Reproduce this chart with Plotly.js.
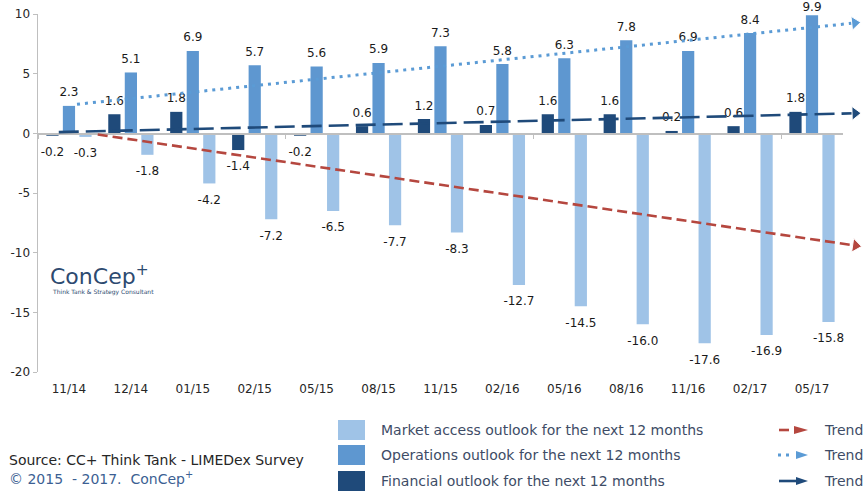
<!DOCTYPE html>
<html><head><meta charset="utf-8">
<script src="https://cdn.plot.ly/plotly-3.0.1.min.js"></script>
<style>html,body{margin:0;padding:0;background:#fff}#chart{width:864px;height:495px}</style>
</head><body><div id="chart"></div>
<script>
// ---------- data ----------
const categories = ['11/14','12/14','01/15','02/15','05/15','08/15','11/15','02/16','05/16','08/16','11/16','02/17','05/17'];
const marketAccess = [-0.3,-1.8,-4.2,-7.2,-6.5,-7.7,-8.3,-12.7,-14.5,-16.0,-17.6,-16.9,-15.8];
const operations   = [2.3,5.1,6.9,5.7,5.6,5.9,7.3,5.8,6.3,7.8,6.9,8.4,9.9];
const financial    = [-0.2,1.6,1.8,-1.4,-0.2,0.6,1.2,0.7,1.6,1.6,0.2,0.6,1.8];
const seriesNames  = ['Market access outlook for the next 12 months',
                      'Operations outlook for the next 12 months',
                      'Financial outlook for the next 12 months'];
const trendLabel = 'Trend';
// trend arrows (start, end) in category-index units and values
const marketTrendX = [0.47, 12.71],     marketTrendY = [-0.1, -9.41];
const operationsTrendX = [0.13, 12.69], operationsTrendY = [2.44, 9.25];
const financialTrendX = [-0.17, 12.69], financialTrendY = [0.1, 1.68];
const yTickVals = [-20,-15,-10,-5,0,5,10];
const yTickText = ['-20','-15','-10','-5','0','5','10'];
const sourceText = 'Source: CC+ Think Tank - LIMEDex Survey';
const copyrightText = '© 2015  - 2017.  ConCep<sup>+</sup>';
const logoText = 'ConCep<sup>+</sup>';
const logoSub = 'Think Tank & Strategy Consultant';

// ---------- styling / geometry ----------
const colMarket = '#9FC3E7', colOps = '#5E97D0', colFin = '#1F4A7A';
const colRed = '#B5473F', colTrendBlue = '#5B9BD5', colTrendDark = '#1F4A7A';
const FONT = 'DejaVu Sans';
const W = 864, H = 495, L = 38, R = 0, T = 14, B = 123;
const plotW = W - L - R, plotH = H - T - B;
const catW = 61.92;
const mainFrac = catW * categories.length / plotW;
const yMin = -20, yMax = 10;
const BARGAP = 0.2;
const idx = categories.map((c, i) => i);
const fx = x => (x - L) / plotW;
const fy = y => (H - B - y) / plotH;

const labelFont = {family: FONT, size: 12, color: '#1a1a1a'};
function barTrace(name, vals, color) {
  return {type: 'bar', name: name, x: idx, y: vals, marker: {color: color},
    hoverinfo: 'skip', showlegend: false};
}
// invisible marker size controls the label distance from the bar end
function labelMarkerSize(v) {
  let gap;
  if (v >= 0) {
    const barTop = T + (yMax - v) / (yMax - yMin) * plotH;
    gap = Math.min(9.5, barTop - 11.5);
    const r = Math.max(gap - 3, 1);
    return Math.max(2 * (r - 1) * 0.8, 0.5);
  }
  gap = 11.7;
  return 2 * (gap - 0.3 - 1) * 0.8;
}
function labelTrace(vals) {
  return {type: 'scatter', mode: 'markers+text', orientation: 'v', x: idx, y: vals,
    text: vals.map(v => v.toFixed(1)),
    textposition: vals.map(v => v >= 0 ? 'top center' : 'bottom center'),
    marker: {size: vals.map(labelMarkerSize), opacity: 0, color: '#000'},
    textfont: labelFont, cliponaxis: false, hoverinfo: 'skip', showlegend: false};
}
function trendTrace(xs, ys, color, width, dash) {
  return {type: 'scatter', mode: 'lines+markers', x: xs, y: ys, xaxis: 'x2', yaxis: 'y2',
    line: {color: color, width: width, dash: dash},
    marker: {symbol: 'triangle-up', angleref: 'previous', size: [0, 12], opacity: [0, 1], color: color},
    cliponaxis: false, hoverinfo: 'skip', showlegend: false};
}

const data = [
  barTrace(seriesNames[2], financial, colFin),
  barTrace(seriesNames[1], operations, colOps),
  barTrace(seriesNames[0], marketAccess, colMarket),
  labelTrace(financial),
  labelTrace(operations),
  labelTrace(marketAccess),
  {type: 'scatter', x: [null], y: [null], xaxis: 'x3', yaxis: 'y', showlegend: false, hoverinfo: 'skip'},
  trendTrace(marketTrendX, marketTrendY, colRed, 2.6, '10px,5px'),
  trendTrace(operationsTrendX, operationsTrendY, colTrendBlue, 3, '3px,5px'),
  trendTrace(financialTrendX, financialTrendY, colTrendDark, 2.6, '20px,7px')
];

// ---------- legend (custom) ----------
const rows = [430, 455, 481];
const boxCols = [colMarket, colOps, colFin];
const shapes = [], annotations = [];
rows.forEach((yc, i) => {
  shapes.push({type: 'rect', xref: 'paper', yref: 'paper', x0: fx(338), x1: fx(365),
    y0: fy(yc - 10), y1: fy(yc + 10), fillcolor: boxCols[i], line: {width: 0}});
  annotations.push({xref: 'paper', yref: 'paper', x: fx(379), y: fy(yc), xanchor: 'left', yanchor: 'middle',
    text: seriesNames[i], showarrow: false, font: {family: FONT, size: 14, color: '#3E4C66'}});
  annotations.push({xref: 'paper', yref: 'paper', x: fx(822), y: fy(yc), xanchor: 'left', yanchor: 'middle',
    text: trendLabel, showarrow: false, font: {family: FONT, size: 14, color: '#3E4C66'}});
});
const tri = (x0, x1, yc, h, col) => ({type: 'path', xref: 'paper', yref: 'paper', fillcolor: col, line: {width: 0},
  path: `M${fx(x0)},${fy(yc - h)} L${fx(x1)},${fy(yc)} L${fx(x0)},${fy(yc + h)} Z`});
const seg = (x0, x1, yc, col, w, dash) => ({type: 'line', xref: 'paper', yref: 'paper', x0: fx(x0), x1: fx(x1),
  y0: fy(yc), y1: fy(yc), line: {color: col, width: w, dash: dash}});
shapes.push(seg(779, 789, rows[0], colRed, 2.6, 'solid'), tri(794, 808, rows[0], 4, colRed));
shapes.push(seg(778, 792, rows[1], colTrendBlue, 3, '3px,5px'), tri(796, 808, rows[1], 4, colTrendBlue));
shapes.push(seg(779, 800, rows[2], colTrendDark, 2.6, 'solid'), tri(796, 808, rows[2], 4, colTrendDark));

annotations.push({xref: 'paper', yref: 'paper', x: fx(7), y: fy(460), xanchor: 'left', yanchor: 'middle',
  text: sourceText, showarrow: false, font: {family: FONT, size: 14, color: '#262626'}});
annotations.push({xref: 'paper', yref: 'paper', x: fx(7), y: fy(478), xanchor: 'left', yanchor: 'middle',
  text: copyrightText, showarrow: false, font: {family: FONT, size: 14, color: '#3C5F93'}});
annotations.push({xref: 'paper', yref: 'paper', x: fx(48), y: fy(275), xanchor: 'left', yanchor: 'middle',
  text: logoText, showarrow: false, font: {family: FONT, size: 22, color: '#2D4A70'}});
annotations.push({xref: 'paper', yref: 'paper', x: fx(50), y: fy(292), xanchor: 'left', yanchor: 'middle',
  text: logoSub, showarrow: false, font: {family: FONT, size: 6, color: '#2D4A70'}});

const layout = {
  width: W, height: H, margin: {l: L, r: R, t: T, b: B, pad: 0},
  paper_bgcolor: '#ffffff', plot_bgcolor: 'rgba(0,0,0,0)',
  font: {family: FONT, color: '#262626'},
  barmode: 'group', bargap: BARGAP, bargroupgap: 0.26,
  scattermode: 'group', scattergap: BARGAP,
  showlegend: false,
  xaxis: {domain: [0, mainFrac], range: [-0.5, categories.length - 0.5], tickvals: idx, ticktext: categories,
    showline: false, ticks: '', ticklabelstandoff: 8, showgrid: false, zeroline: false, fixedrange: true,
    tickfont: {family: FONT, size: 12, color: '#262626'}},
  xaxis3: {overlaying: 'x', anchor: 'free', position: (0 - yMin) / (yMax - yMin), side: 'bottom',
    range: [-0.5, categories.length - 0.5], tickvals: [-0.5, 3.5, 7.5, 11.5], ticks: 'outside', ticklen: 4,
    tickcolor: '#BFBFBF', showticklabels: false, showline: true, linecolor: '#BFBFBF', linewidth: 1.5,
    showgrid: false, zeroline: false, fixedrange: true},
  yaxis: {domain: [0, 1], range: [yMin, yMax], tickvals: yTickVals, ticktext: yTickText, ticks: 'outside',
    ticklen: 4, tickcolor: '#BFBFBF', showline: true, linecolor: '#BFBFBF', linewidth: 1.5,
    showgrid: false, zeroline: false, fixedrange: true, tickfont: {family: FONT, size: 12, color: '#262626'}},
  xaxis2: {domain: [0, 1], anchor: 'y2', range: [-0.5, -0.5 + categories.length / mainFrac], visible: false, fixedrange: true},
  yaxis2: {domain: [0, 1], anchor: 'x2', range: [yMin, yMax], visible: false, fixedrange: true},
  shapes: shapes, annotations: annotations
};
Plotly.newPlot('chart', data, layout, {displayModeBar: false, staticPlot: true});
</script></body></html>
